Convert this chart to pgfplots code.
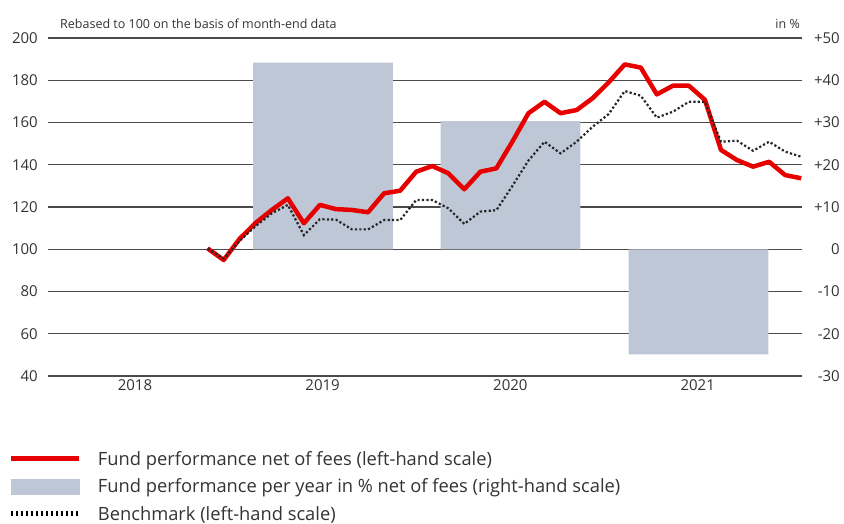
\documentclass[border=0pt]{standalone}
\usepackage{pgfplots}
\pgfplotsset{compat=1.18}
\usepackage{fontspec}
\setmainfont{Open Sans}
\definecolor{fundred}{HTML}{E60000}
\definecolor{barcol}{HTML}{BEC7D5}
\definecolor{gridcol}{HTML}{4A4A4A}
\definecolor{txtcol}{HTML}{333333}

\pgfplotstableread{
k fund bench
0 100.4 100.4
1 94.9 95.5
2 105 104
3 112.5 111
4 118.6 117
5 124.1 121
6 112.3 106.7
7 121 114.2
8 119 114
9 118.6 109.4
10 117.5 109.4
11 126.5 113.8
12 127.7 113.8
13 136.7 123.3
14 139.4 123.3
15 136 119.4
16 128.4 112
17 136.7 117.8
18 138.3 118.5
19 151 130
20 164.4 142
21 169.8 150.9
22 164.4 145.4
23 165.9 150.9
24 171.5 158
25 179 164
26 187.5 174.9
27 186 172.7
28 173.3 162.3
29 177.4 165.1
30 177.4 169.8
31 170.7 169.8
32 147 150.9
33 142.2 151.4
34 139.1 146.6
35 141.4 150.9
36 135.1 146.2
37 133.6 143.8
}\perfdata

\pgfplotstableread{
x y
7.19 44.2
18.88 30.3
30.6 -24.9
}\bardata

\begin{document}
\begin{tikzpicture}
\useasboundingbox (0pt,0pt) rectangle (844pt,523pt);
% right-scale axis with grid and bars
\begin{axis}[
  at={(48pt,147pt)}, anchor=south west,
  scale only axis, width=754pt, height=338pt,
  xmin=-9.95, xmax=37.05, ymin=-30, ymax=50,
  axis line style={draw=none},
  major tick length=0pt,
  ytick={-30,-20,-10,0,10,20,30,40,50},
  yticklabels={-30,-20,-10,0,+10,+20,+30,+40,+50},
  yticklabel pos=right,
  yticklabel style={anchor=east, inner sep=0pt, xshift=38pt, font=\fontsize{15}{18}\selectfont, text=txtcol},
  xtick={-4.53,7.17,18.87,30.55},
  xticklabels={2018,2019,2020,2021},
  xticklabel style={anchor=north, inner sep=0pt, yshift=-3pt, font=\fontsize{15}{18}\selectfont, text=txtcol},
  ymajorgrids,
  grid style={gridcol, line width=1.3pt},
  ybar, bar width=8.7, bar shift=0pt,
]
\addplot[fill=barcol, draw=none] table[x=x, y=y] {\bardata};
\end{axis}
% left-scale axis with lines and legend
\begin{axis}[
  at={(48pt,147pt)}, anchor=south west,
  scale only axis, width=754pt, height=338pt,
  xmin=-9.95, xmax=37.05, ymin=40, ymax=200,
  axis line style={draw=none},
  major tick length=0pt,
  ytick={40,60,...,200},
  yticklabel pos=left,
  /pgf/number format/assume math mode=true,
  yticklabel style={anchor=east, inner sep=0pt, xshift=-10pt, font=\fontsize{15}{18}\selectfont, text=txtcol},
  xtick=\empty,
  legend cell align=left,
  legend style={at={(axis description cs:-0.053,-0.222)}, anchor=north west,
    draw=none, fill=none, inner sep=0pt, row sep=12pt,
    font=\fontsize{18.3}{22}\selectfont, text=txtcol,
    nodes={inner sep=0pt}},
]
\addplot[fundred, line width=4.5pt, line join=round,
  legend image code/.code={\draw[fundred, line width=5pt] (0pt,0pt) -- (68pt,0pt); \path (85pt,0pt);}]
  table[x=k, y=fund] {\perfdata};
\addlegendentry{Fund performance net of fees (left-hand scale)}
\addlegendimage{legend image code/.code={\fill[barcol] (0pt,-7.5pt) rectangle (68pt,7.5pt); \path (85pt,0pt);}}
\addlegendentry{Fund performance per year in \% net of fees (right-hand scale)}
\addplot[black!85, line width=2.2pt, dash pattern=on 2.2pt off 2.2pt,
  legend image code/.code={\draw[black, line width=5pt, dash pattern=on 2.5pt off 2.5pt] (0pt,0pt) -- (68pt,0pt); \path (85pt,0pt);}]
  table[x=k, y=bench] {\perfdata};
\addlegendentry{Benchmark (left-hand scale)}
\end{axis}
\node[anchor=base west, inner sep=0pt, text=txtcol, font=\fontsize{12.5}{15}\selectfont] at (60pt,494pt) {Rebased to 100 on the basis of month-end data};
\node[anchor=base east, inner sep=0pt, text=txtcol, font=\fontsize{12.5}{15}\selectfont] at (800pt,494pt) {in \%};
\end{tikzpicture}
\end{document}
